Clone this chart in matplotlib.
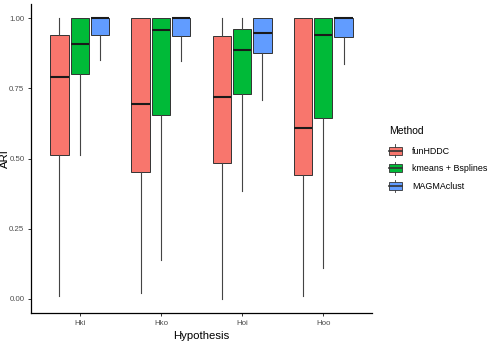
import matplotlib
matplotlib.use("Agg")
import matplotlib.pyplot as plt
from matplotlib.legend_handler import HandlerBase
from matplotlib.patches import Rectangle, Patch
from matplotlib.lines import Line2D

plt.rcParams['font.family'] = ['Liberation Sans', 'DejaVu Sans']

hypotheses = ["Hki", "Hko", "Hoi", "Hoo"]
methods = ["funHDDC", "kmeans + Bsplines", "MAGMAclust"]
colors = ["#F8766D", "#00BA38", "#619CFF"]

# (whisker low, q1, median, q3, whisker high) for each hypothesis
fun_hddc = [(0.01, 0.513, 0.791, 0.941, 1.0),
            (0.02, 0.451, 0.695, 1.0, 1.0),
            (0.0, 0.485, 0.720, 0.936, 1.0),
            (0.012, 0.442, 0.607, 1.0, 1.0)]
kmeans_bsplines = [(0.511, 0.80, 0.906, 1.0, 1.0),
                   (0.14, 0.656, 0.956, 1.0, 1.0),
                   (0.383, 0.729, 0.887, 0.962, 1.0),
                   (0.11, 0.643, 0.94, 1.0, 1.0)]
magmaclust = [(0.851, 0.939, 1.0, 1.0, 1.0),
              (0.848, 0.937, 1.0, 1.0, 1.0),
              (0.707, 0.877, 0.945, 1.0, 1.0),
              (0.838, 0.933, 1.0, 1.0, 1.0)]
series = [fun_hddc, kmeans_bsplines, magmaclust]

EDGE = "#333333"


class BoxKeyHandler(HandlerBase):
    # ggplot-style boxplot key: box, median bar, whisker stubs
    def create_artists(self, legend, orig_handle, xdescent, ydescent,
                       width, height, fontsize, trans):
        x0, y0 = -xdescent, -ydescent
        cx = x0 + width / 2
        bh = height * 0.64
        by = y0 + (height - bh) / 2
        box = Rectangle((x0, by), width, bh, facecolor=orig_handle.get_facecolor(),
                        edgecolor=EDGE, lw=0.6, transform=trans)
        med = Line2D([x0, x0 + width], [y0 + height / 2] * 2, color=EDGE, lw=1.2, transform=trans)
        w1 = Line2D([cx, cx], [y0, by], color=EDGE, lw=0.6, transform=trans)
        w2 = Line2D([cx, cx], [by + bh, y0 + height], color=EDGE, lw=0.6, transform=trans)
        return [w1, w2, box, med]


fig = plt.figure(figsize=(4.89, 3.41), dpi=100)
ax = fig.add_axes([31 / 489, 1 - 313 / 341, (372 - 31) / 489, (313 - 4) / 341])

offsets = [-0.25, 0.0, 0.25]
for data, col, off in zip(series, colors, offsets):
    stats = [dict(whislo=s[0], q1=s[1], med=s[2], q3=s[3], whishi=s[4], fliers=[])
             for s in data]
    ax.bxp(stats, positions=[i + 1 + off for i in range(len(hypotheses))],
           widths=0.225, patch_artist=True, showcaps=False, showfliers=False,
           boxprops=dict(facecolor=col, edgecolor=EDGE, linewidth=0.7),
           medianprops=dict(color="#1a1a1a", linewidth=1.5),
           whiskerprops=dict(color="#444444", linewidth=0.8),
           manage_ticks=False)

ax.set_xlim(0.4, 4.6)
ax.set_ylim(-0.05, 1.05)
ax.set_xticks(range(1, len(hypotheses) + 1))
ax.set_xticklabels(hypotheses)
ax.set_yticks([0, 0.25, 0.5, 0.75, 1.0])
ax.set_yticklabels(["0.00", "0.25", "0.50", "0.75", "1.00"])

for side in ["top", "right"]:
    ax.spines[side].set_visible(False)
for side in ["left", "bottom"]:
    ax.spines[side].set_linewidth(0.9)
    ax.spines[side].set_color("black")
ax.tick_params(length=2.2, width=0.7, color=EDGE, labelcolor="#4D4D4D",
               labelsize=5.7, pad=2.5)

ax.set_xlabel("Hypothesis", fontsize=8.2, labelpad=3)
fig.text(5 / 489, 1 - 158.5 / 341, "ARI", rotation=90, fontsize=8.2,
         ha="center", va="center")

handles = [Patch(facecolor=c, edgecolor=EDGE) for c in colors]
leg = ax.legend(handles, methods, title="Method", loc="upper left",
                bbox_to_anchor=(389 / 489, 1 - 126 / 341),
                bbox_transform=fig.transFigure, frameon=False,
                fontsize=6.4, title_fontsize=7.5,
                handler_map={Patch: BoxKeyHandler()},
                handlelength=1.43, handleheight=1.81, labelspacing=0.56,
                handletextpad=1.15, borderpad=0, borderaxespad=0)
leg._legend_box.align = "left"
leg._legend_box.sep = 6.0  # extra room under the title

fig.savefig("out.png", dpi=100)
